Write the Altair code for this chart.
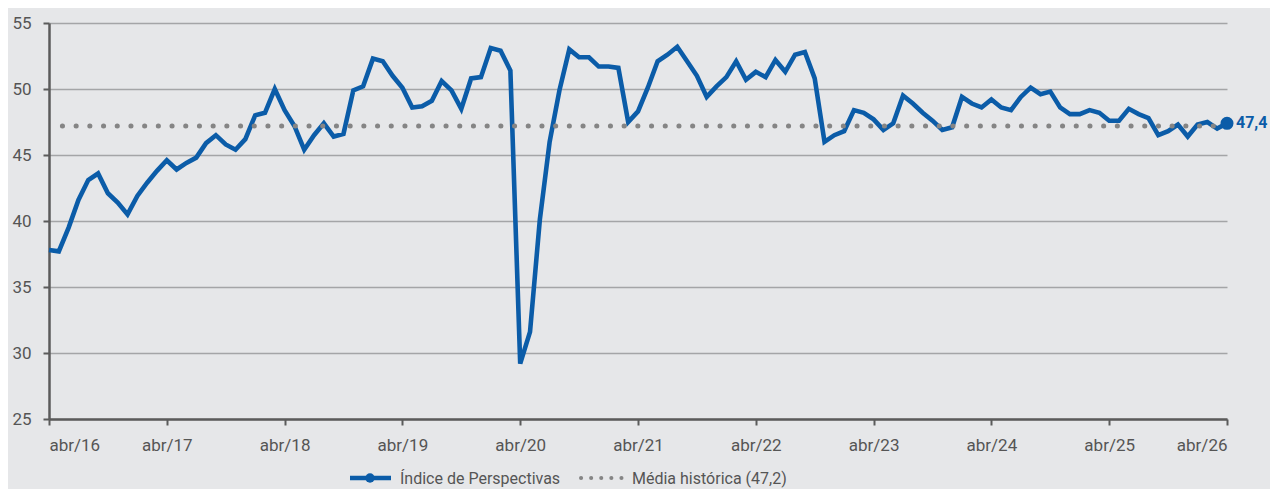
import altair as alt
import pandas as pd

# ---- data ----
tick_labels = ["abr/16", "abr/17", "abr/18", "abr/19", "abr/20", "abr/21",
               "abr/22", "abr/23", "abr/24", "abr/25", "abr/26"]

v2016 = [37.8, 37.7, 39.5, 41.6, 43.1, 43.6, 42.1, 41.4, 40.5]  # abr-dez
v2017 = [41.9, 42.9, 43.8, 44.6, 43.9, 44.4, 44.8, 45.9, 46.5, 45.8, 45.4, 46.2]
v2018 = [48.0, 48.2, 50.0, 48.4, 47.2, 45.4, 46.5, 47.4, 46.4, 46.6, 49.9, 50.2]
v2019 = [52.3, 52.1, 51.0, 50.1, 48.6, 48.7, 49.1, 50.6, 49.9, 48.5, 50.8, 50.9]
v2020 = [53.1, 52.9, 51.4, 29.2, 31.6, 40.1, 46.0, 49.9, 53.0, 52.4, 52.4, 51.7]
v2021 = [51.7, 51.6, 47.5, 48.3, 50.1, 52.1, 52.6, 53.2, 52.1, 51.0, 49.4, 50.2]
v2022 = [50.9, 52.1, 50.7, 51.3, 50.9, 52.2, 51.3, 52.6, 52.8, 50.8, 46.0, 46.5]
v2023 = [46.8, 48.4, 48.2, 47.7, 46.9, 47.4, 49.5, 48.9, 48.2, 47.6, 46.9, 47.1]
v2024 = [49.4, 48.9, 48.6, 49.2, 48.6, 48.4, 49.4, 50.1, 49.6, 49.8, 48.6, 48.1]
v2025 = [48.1, 48.4, 48.2, 47.6, 47.6, 48.5, 48.1, 47.8, 46.5, 46.8, 47.3, 46.4]
v2026 = [47.3, 47.5, 47.0, 47.4]  # jan-abr

media_historica = 47.2
legend_labels = ["Índice de Perspectivas", "Média histórica (47,2)"]
last_label = "47,4"

indice = v2016 + v2017 + v2018 + v2019 + v2020 + v2021 + v2022 + v2023 + v2024 + v2025 + v2026
df = pd.DataFrame({"m": list(range(len(indice))), "v": indice})
last = df.tail(1).assign(lbl=last_label)

BLUE = "#0b5ca8"
DOT = "#858585"
GRID = "#a4a5a7"
AXIS = "#5b5b5b"
TXT = "#555555"
BG = "#e6e7e9"
FONT = "Roboto"

label_expr = "[" + ",".join("'%s'" % t for t in tick_labels) + "][round(datum.value/12)]"

x = alt.X("m:Q",
          scale=alt.Scale(domain=[0, 120], nice=False, zero=False),
          axis=alt.Axis(values=list(range(0, 121, 12)), labelExpr=label_expr,
                        grid=False, domainColor=AXIS, domainWidth=2.5,
                        tickColor=AXIS, tickWidth=2, tickSize=6,
                        labelColor=TXT, labelFontSize=17, labelFont=FONT,
                        labelPadding=12, title=None))
y = alt.Y("v:Q",
          scale=alt.Scale(domain=[25, 55], nice=False, zero=False),
          axis=alt.Axis(values=[25, 30, 35, 40, 45, 50, 55], grid=True,
                        gridColor=GRID, gridWidth=1.6,
                        domainColor=AXIS, domainWidth=2.5,
                        tickColor=AXIS, tickWidth=2, tickSize=6,
                        labelColor=TXT, labelFontSize=17, labelFont=FONT,
                        labelPadding=12, title=None))

base = alt.Chart(df)

avg = alt.Chart(pd.DataFrame({"v": [media_historica]})).mark_rule(
    color=DOT, strokeWidth=5, strokeCap="round", strokeDash=[0.1, 13.6]
).encode(y=alt.Y("v:Q"))

line = base.mark_line(color=BLUE, strokeWidth=4.6, strokeJoin="miter").encode(x=x, y=y)

endpt = alt.Chart(last).mark_point(filled=True, color=BLUE, size=170, opacity=1).encode(
    x="m:Q", y="v:Q")
endlbl = alt.Chart(last).mark_text(align="left", baseline="middle", dx=9, dy=0,
                                   color=BLUE, fontSize=16, fontWeight="bold", font=FONT
                                   ).encode(x="m:Q", y="v:Q", text="lbl:N")

LY = 455
leg = alt.Chart(pd.DataFrame({"a": [0]}))
leg_line = leg.mark_rule(color=BLUE, strokeWidth=4.5).encode(
    x=alt.value(301), x2=alt.value(342), y=alt.value(LY))
leg_pt = leg.mark_point(filled=True, color=BLUE, size=90, opacity=1).encode(
    x=alt.value(321), y=alt.value(LY))
leg_t1 = leg.mark_text(align="left", baseline="middle", fontSize=16, font=FONT, color=TXT).encode(
    x=alt.value(351), y=alt.value(LY + 1), text=alt.value(legend_labels[0]))
leg_dots = leg.mark_rule(color=DOT, strokeWidth=4, strokeCap="round", strokeDash=[0.1, 10]).encode(
    x=alt.value(532), x2=alt.value(574), y=alt.value(LY))
leg_t2 = leg.mark_text(align="left", baseline="middle", fontSize=16, font=FONT, color=TXT).encode(
    x=alt.value(583), y=alt.value(LY + 1), text=alt.value(legend_labels[1]))

chart = alt.layer(line, avg, endpt, endlbl, leg_line, leg_pt, leg_t1, leg_dots, leg_t2).properties(
    width=1178, height=396,
    autosize=alt.AutoSizeParams(type="none"),
    padding={"left": 41, "top": 15, "right": 43, "bottom": 70},
    background=BG,
).configure_view(stroke=None, clip=False)

chart.save("out.html", embed_options={"renderer": "svg", "actions": False})
